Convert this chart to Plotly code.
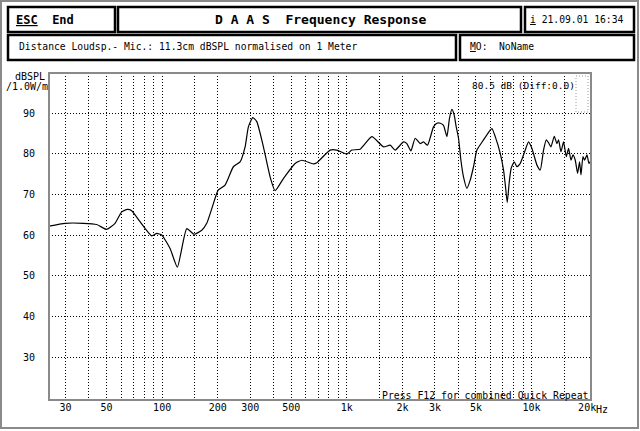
import numpy as np
import plotly.graph_objects as go

# ---- data ----
freq_hz = [24.4, 29.8, 37.4, 44.2, 50.1, 55.6, 60.4, 64.8, 68.4, 75.9,
           87.8, 93.5, 99.5, 110.4, 120.9, 135.9, 148.9, 163.9, 174.4, 197.6,
           201.6, 219.1, 243.0, 264.2, 281.3, 293.1, 309.6, 325.4, 353.4, 384.2,
           408.9, 453.5, 524.8, 570.5, 659.3, 687.8, 812, 882.6, 1000, 1064,
           1180, 1366, 1579, 1717, 1827, 2026, 2113, 2222, 2344, 2495,
           2600, 2734, 2945, 3073, 3203, 3337, 3481, 3595, 3705, 3813,
           3910, 4024, 4146, 4281, 4467, 4655, 4851, 5061, 5495, 5975,
           6103, 6360, 6768, 7053, 7204, 7386, 7572, 7762, 8058, 8335,
           8685, 9245, 9633, 10050, 10698, 11147, 11614, 12013, 12364, 12739,
           13274, 13728, 14006, 14431, 14905, 15417, 15866, 16348, 16762, 17249,
           17753, 18197, 18519, 18986, 19371, 19960, 20464, 20985]
level_db = [62.2, 62.9, 62.9, 62.6, 61.4, 62.9, 65.7, 66.3, 66.0, 63.3,
            59.8, 60.4, 60.0, 56.7, 52.1, 61.6, 60.2, 61.2, 62.9, 70.3,
            71.1, 72.3, 76.8, 78.0, 81.7, 86.6, 88.9, 87.9, 81.7, 74.3,
            70.9, 73.9, 77.6, 78.4, 77.5, 77.8, 80.9, 80.9, 79.9, 80.9,
            81.1, 84.2, 81.7, 82.1, 80.9, 82.9, 82.5, 80.7, 83.8, 82.5,
            82.9, 82.1, 86.6, 87.5, 87.5, 87.0, 84.2, 88.7, 90.9, 89.5,
            86.6, 83.8, 78.4, 74.3, 71.5, 73.5, 76.8, 80.9, 83.4, 85.8,
            86.2, 84.2, 80.1, 76.0, 72.5, 68.0, 73.0, 76.5, 78.0, 76.8,
            77.6, 80.9, 82.9, 81.3, 77.2, 76.0, 80.9, 83.4, 82.7, 81.7,
            84.3, 82.5, 83.4, 80.5, 82.9, 79.3, 81.3, 78.4, 79.7, 78.4,
            75.2, 78.0, 74.8, 79.3, 78.4, 79.7, 77.6, 78.4]

x_tick_vals = [30, 50, 100, 200, 300, 500, 1000, 2000, 3000, 5000, 10000, 20000]
x_tick_text = ["30", "50", "100", "200", "300", "500", "1k", "2k", "3k", "5k", "10k", "20k"]
x_grid_vals = [30, 40, 50, 60, 70, 80, 90, 100, 150, 200, 300, 400, 500, 600, 700,
               800, 900, 1000, 1500, 2000, 3000, 4000, 5000, 6000, 7000, 8000,
               9000, 10000, 15000]
y_tick_vals = [30, 40, 50, 60, 70, 80, 90]

FONT = "DejaVu Sans Mono"
NB = "\u00a0"

# plot area in pixels: x 49..591, y 73..400
L, R, T, B = 49, 591, 73, 400


def px(x):
    return (x - L) / (R - L)


def py(y):
    return (B - y) / (B - T)


fig = go.Figure()
fig.add_trace(go.Scatter(x=freq_hz, y=level_db, mode="lines",
                         line=dict(color="black", width=1.2, shape="spline", smoothing=0.5),
                         hoverinfo="skip"))

shapes = []
# outer dotted frame
shapes.append(dict(type="rect", xref="paper", yref="paper",
                   x0=px(1), x1=px(638), y0=py(1), y1=py(428),
                   line=dict(color="#8a8a8a", width=2)))
# header boxes
for (x0, x1, y0, y1) in [(8, 115, 7, 32), (118, 521, 7, 32), (525, 634, 7, 32),
                         (8, 456, 35, 60), (460, 634, 35, 60)]:
    shapes.append(dict(type="rect", xref="paper", yref="paper",
                       x0=px(x0), x1=px(x1), y0=py(y0), y1=py(y1),
                       line=dict(color="black", width=2.5)))
# plot border
shapes.append(dict(type="rect", xref="paper", yref="paper",
                   x0=0, x1=1, y0=0, y1=1,
                   line=dict(color="#8a8a8a", width=2)))
# small indicator top right
shapes.append(dict(type="rect", xref="paper", yref="paper",
                   x0=px(576), x1=px(588), y0=py(76), y1=py(112),
                   line=dict(color="#9a9a9a", width=1, dash="1px,2px")))

ann = []


def text(x, y, s, size=10, anchor="left"):
    ann.append(dict(xref="paper", yref="paper", x=px(x), y=py(y), text=s,
                    showarrow=False, xanchor=anchor, yanchor="middle",
                    font=dict(family=FONT, size=size, color="black")))


text(14, 19.5, "<b><u>ESC</u>" + NB + NB + "End</b>", size=12)
text(320, 19.5, "<b>D A A S" + NB + NB + "Frequency Response</b>", size=13, anchor="center")
text(528, 19.5, "<u>i</u> 21.09.01 16:34", size=9.7)
text(17, 47, "Distance Loudsp.- Mic.: 11.3cm dBSPL normalised on 1 Meter", size=9.7)
text(468, 47, "<u>M</u>O:", size=9.7)
text(497, 47, "NoName", size=9.7)
text(470, 85, "80.5 dB (Diff:0.0)", size=9.5)
text(380, 395, "Press F12 for combined Quick Repeat", size=9.8)
text(47, 77, "dBSPL", size=10, anchor="right")
text(49.5, 86, "/1.0W/m", size=10, anchor="right")
ann.append(dict(xref="x", yref="paper", x=np.log10(20000), y=py(409), text="Hz",
                showarrow=False, xanchor="left", yanchor="middle", xshift=7,
                font=dict(family=FONT, size=10, color="black")))

fig.update_layout(
    width=640, height=431,
    margin=dict(l=L, r=640 - R, t=T, b=431 - B),
    paper_bgcolor="white", plot_bgcolor="white",
    showlegend=False,
    font=dict(family=FONT, size=10, color="black"),
    shapes=shapes, annotations=ann,
    xaxis=dict(type="log", range=[np.log10(24.4), np.log10(20985)],
               tickmode="array", tickvals=x_tick_vals, ticktext=x_tick_text,
               showgrid=False, zeroline=False, showline=False,
               ticks="", tickfont=dict(family=FONT, size=10),
               minor=dict(tickmode="array", tickvals=x_grid_vals, showgrid=True,
                          gridcolor="black", gridwidth=1, griddash="1px,2px",
                          ticks=""),
               fixedrange=True),
    yaxis=dict(range=[19.45, 99.85], tickmode="array", tickvals=y_tick_vals,
               showgrid=True, gridcolor="black", gridwidth=1, griddash="1px,2px",
               zeroline=False, showline=False,
               ticks="outside", ticklen=11, tickcolor="rgba(0,0,0,0)",
               tickfont=dict(family=FONT, size=10),
               fixedrange=True),
)

fig.write_html("out.html", config={"displayModeBar": False},
               post_script="document.body.style.margin='0px';document.body.style.overflow='hidden';")
